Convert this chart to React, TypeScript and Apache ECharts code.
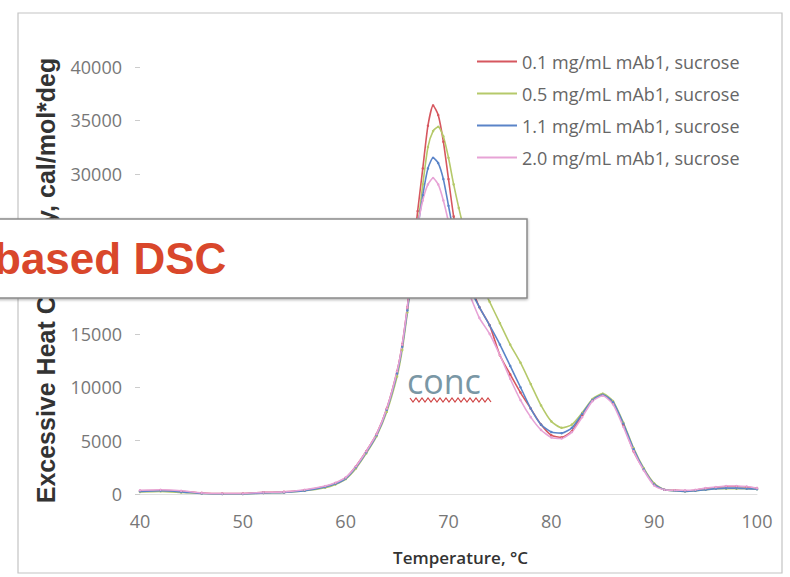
import React, { useEffect, useRef } from "react";
import * as echarts from "echarts";

const temps = [40, 42, 44, 46, 48, 50, 52, 54, 56, 58, 59, 60, 61, 62, 63, 64, 65, 65.5, 66, 66.5, 67, 67.5, 68, 68.5, 69, 69.5, 70, 70.5, 71, 71.5, 72, 73, 74, 75, 76, 77, 78, 79, 80, 81, 82, 83, 84, 85, 86, 87, 88, 89, 90, 91, 92, 93, 94, 95, 96, 97, 98, 99, 100];

const conc01 = [300, 350, 250, 100, 50, 50, 150, 200, 350, 700, 1000, 1500, 2600, 4000, 5600, 8000, 11500, 14000, 17500, 22000, 26500, 30500, 34500, 36400, 35500, 33000, 29500, 26000, 23500, 21500, 20000, 17500, 15800, 13000, 11200, 9500, 8000, 6500, 5500, 5300, 5900, 7400, 8800, 9300, 8500, 6500, 4000, 2300, 900, 400, 350, 300, 350, 500, 600, 700, 700, 650, 550];
const conc05 = [200, 250, 150, 50, 0, 0, 100, 150, 300, 600, 900, 1400, 2400, 3800, 5400, 7700, 11000, 13500, 17000, 21000, 25000, 29000, 32500, 34000, 34400, 33500, 31500, 29000, 26800, 24800, 22800, 20000, 18000, 16000, 14000, 12300, 10300, 8300, 6800, 6200, 6500, 7600, 8900, 9400, 8700, 6700, 4300, 2400, 1000, 400, 300, 250, 300, 400, 500, 500, 500, 500, 450];
const conc11 = [250, 300, 200, 50, 0, 0, 100, 150, 300, 650, 950, 1450, 2500, 3900, 5500, 7900, 11300, 13800, 17200, 21000, 24800, 28000, 30500, 31500, 31000, 29500, 27000, 24500, 22500, 21000, 19500, 17500, 15800, 14000, 12000, 10000, 8000, 6500, 5800, 5700, 6200, 7500, 8800, 9300, 8600, 6600, 4200, 2300, 900, 400, 300, 250, 300, 400, 500, 550, 550, 500, 450];
const conc20 = [350, 400, 300, 100, 50, 50, 150, 200, 400, 750, 1050, 1550, 2600, 4000, 5600, 8000, 11500, 14000, 17500, 21500, 25000, 27500, 29000, 29600, 29000, 27500, 25500, 23300, 21500, 20000, 18800, 16500, 15000, 13000, 10800, 8800, 7200, 6000, 5300, 5200, 5800, 7200, 8700, 9200, 8400, 6300, 4000, 2200, 800, 400, 350, 350, 400, 550, 650, 750, 750, 700, 550];

const seriesNames = [
  "0.1 mg/mL mAb1, sucrose",
  "0.5 mg/mL mAb1, sucrose",
  "1.1 mg/mL mAb1, sucrose",
  "2.0 mg/mL mAb1, sucrose",
];
const seriesValues = [conc01, conc05, conc11, conc20];
const seriesColors = ["#d6575f", "#b5c96a", "#5a84c8", "#e7a3d6"];

const yAxisTitle = "Excessive Heat Capacity, cal/mol*deg";
const xAxisTitle = "Temperature, °C";
const overlayTitle = "based DSC";
const overlayNote = "conc";

export default function App() {
  const ref = useRef<HTMLDivElement>(null);
  useEffect(() => {
    if (!ref.current) return;
    const chart = echarts.init(ref.current, undefined, { renderer: "svg" });
    const wave: number[][] = [];
    for (let i = 0; i <= 27; i++) {
      wave.push([410 + i * 3, i % 2 === 0 ? 398 : 402]);
    }
    const option: any = {
      animation: false,
      backgroundColor: "#ffffff",
      grid: { left: 140, right: 33, top: 67, bottom: 83 },
      legend: {
        orient: "vertical",
        left: 472,
        top: 47,
        icon: "rect",
        itemWidth: 40,
        itemHeight: 2,
        itemGap: 13,
        textStyle: { fontFamily: "Open Sans", fontSize: 18, color: "#666", lineHeight: 19 },
        data: seriesNames,
      },
      xAxis: {
        type: "value",
        min: 40,
        max: 100,
        interval: 10,
        name: xAxisTitle,
        nameLocation: "middle",
        nameGap: 55,
        nameTextStyle: {
          fontFamily: "Open Sans",
          fontSize: 17,
          fontWeight: 600,
          color: "#333",
          padding: [0, 0, 0, 24],
        },
        axisLine: { show: true, lineStyle: { color: "#e0e0e0" } },
        axisTick: { show: false },
        splitLine: { show: false },
        axisLabel: { fontFamily: "Open Sans", fontSize: 18, color: "#777", margin: 18 },
      },
      yAxis: {
        type: "value",
        min: 0,
        max: 40000,
        interval: 5000,
        name: yAxisTitle,
        nameLocation: "middle",
        nameGap: 82,
        nameTextStyle: { fontFamily: "Liberation Sans", fontSize: 25, fontWeight: "bold", color: "#333" },
        axisLine: { show: false },
        axisTick: { show: true, length: 5, lineStyle: { color: "#ccc" } },
        splitLine: { show: false },
        axisLabel: {
          fontFamily: "Open Sans",
          fontSize: 18,
          color: "#777",
          margin: 18,
          formatter: (v: number) => String(v),
        },
      },
      series: seriesNames.map((name, i) => ({
        name,
        type: "line",
        data: temps.map((t, j) => [t, seriesValues[i][j]]),
        color: seriesColors[i],
        lineStyle: { width: 1.6, color: seriesColors[i] },
        symbol: "circle",
        symbolSize: 2.5,
        showSymbol: true,
        smooth: 0.2,
      })),
      graphic: [
        {
          type: "rect",
          z: 100,
          shape: { x: 18, y: 13, width: 764, height: 560 },
          style: { fill: "none", stroke: "#c4c4c4", lineWidth: 1.2 },
        },
        {
          type: "rect",
          z: 101,
          shape: { x: -2, y: 219, width: 529, height: 79 },
          style: {
            fill: "#ffffff",
            stroke: "#8a8a8a",
            lineWidth: 1.5,
            shadowBlur: 3,
            shadowOffsetY: 1,
            shadowColor: "rgba(0,0,0,0.35)",
          },
        },
        {
          type: "text",
          z: 102,
          x: -6,
          y: 258,
          style: {
            text: overlayTitle,
            font: "bold 44px 'Liberation Sans', Arial, sans-serif",
            fill: "#d9472b",
            verticalAlign: "middle",
            align: "left",
          },
        },
        {
          type: "text",
          z: 102,
          x: 407,
          y: 381,
          style: {
            text: overlayNote,
            font: "34px 'Open Sans', sans-serif",
            fill: "#7a97a5",
            verticalAlign: "middle",
            align: "left",
          },
        },
        {
          type: "polyline",
          z: 102,
          shape: { points: wave },
          style: { stroke: "#d04545", lineWidth: 1.2, fill: "none" },
        },
      ],
    };
    chart.setOption(option);
    return () => chart.dispose();
  }, []);
  return (
    <div
      ref={ref}
      style={{ position: "absolute", left: 0, top: 0, width: 790, height: 577, background: "#fff" }}
    />
  );
}
